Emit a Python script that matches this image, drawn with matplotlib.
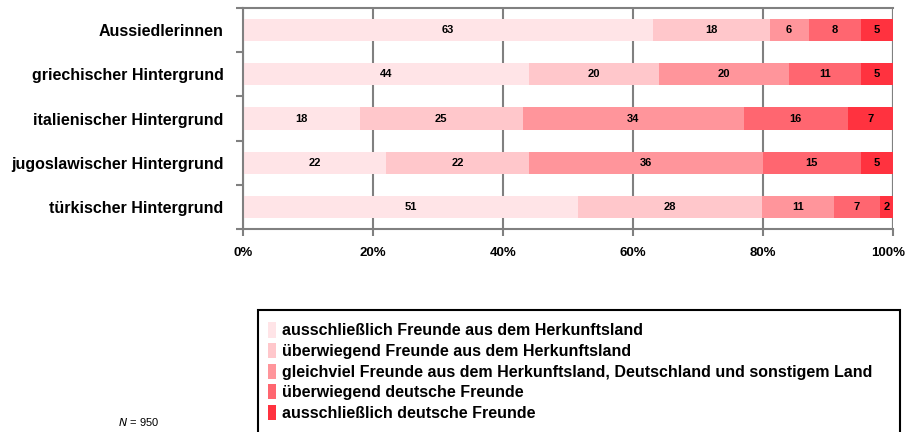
import numpy as np
import matplotlib.pyplot as plt
import matplotlib.transforms as mtransforms
from matplotlib.patches import Rectangle

plt.rcParams['font.family'] = ['Liberation Sans', 'DejaVu Sans']

# Daten
gruppen = ['Aussiedlerinnen', 'griechischer Hintergrund', 'italienischer Hintergrund',
           'jugoslawischer Hintergrund', 'türkischer Hintergrund']
kategorien = ['ausschließlich Freunde aus dem Herkunftsland',
              'überwiegend Freunde aus dem Herkunftsland',
              'gleichviel Freunde aus dem Herkunftsland, Deutschland und sonstigem Land',
              'überwiegend deutsche Freunde',
              'ausschließlich deutsche Freunde']
werte = [
    [63, 44, 18, 22, 51],
    [18, 20, 25, 22, 28],
    [6, 20, 34, 36, 11],
    [8, 11, 16, 15, 7],
    [5, 5, 7, 5, 2],
]
farben = ['#ffe4e7', '#ffc7cb', '#ff959b', '#ff6670', '#ff323f']
xticks = ['0%', '20%', '40%', '60%', '80%', '100%']

fig = plt.figure(figsize=(9.06, 4.32), dpi=100)
ax = fig.add_axes([243 / 906, 1 - 229 / 432, 650 / 906, 221 / 432])

daten = np.array(werte, dtype=float)
anteile = daten / daten.sum(axis=0) * 100
y = np.arange(len(gruppen))
links = np.zeros(len(gruppen))
for i, kat in enumerate(kategorien):
    bars = ax.barh(y, anteile[i], left=links, height=0.5, color=farben[i], label=kat)
    ax.bar_label(bars, labels=[str(v) for v in werte[i]], label_type='center',
                 fontsize=8, fontweight='bold')
    links += anteile[i]

ax.set_xlim(0, 100)
ax.set_ylim(len(gruppen) - 0.5, -0.5)
ax.set_xticks(np.arange(0, 101, 20))
ax.set_xticklabels(xticks, fontsize=9.5, fontweight='bold')
ax.set_yticks(y)
ax.set_yticklabels(gruppen, fontsize=11.5, fontweight='bold')
ax.tick_params(axis='y', length=0, pad=14)
ax.set_yticks(np.arange(-0.5, len(gruppen)), minor=True)
ax.tick_params(axis='y', which='minor', length=5, color='#808080', width=1.5)
ax.tick_params(axis='x', length=5, color='#808080', width=1.5, pad=8)
ax.xaxis.grid(True, color='#808080', linewidth=1.5)
ax.set_axisbelow(True)
for s in ax.spines.values():
    s.set_color('#808080')
    s.set_linewidth(1.5)
ax.spines['right'].set_visible(False)
ax.axvline(100, color='#808080', linewidth=1.5, zorder=0)

# Legende
fig.patches.append(Rectangle((258 / 906, -0.05), 642 / 906, 0.05 + 122 / 432,
                             transform=fig.transFigure, fill=False,
                             edgecolor='black', linewidth=1.5))
h, l = ax.get_legend_handles_labels()
fig.legend(h, l, loc='upper left', bbox_to_anchor=(262 / 906, 1 - 316 / 432),
           frameon=False, handlelength=0.5, handleheight=1.1,
           handletextpad=0.35, labelspacing=0.28, borderaxespad=0,
           prop={'weight': 'bold', 'size': 11.5})

fig.text(118 / 906, 1 - 426 / 432, r'$N$ = 950', fontsize=8)

# letztes Label etwas nach links, damit es nicht abgeschnitten wird
last = ax.xaxis.get_major_ticks()[-1].label1
last.set_transform(last.get_transform() +
                   mtransforms.ScaledTranslation(-5 / 100, 0, fig.dpi_scale_trans))

fig.savefig('out.png', dpi=100)
